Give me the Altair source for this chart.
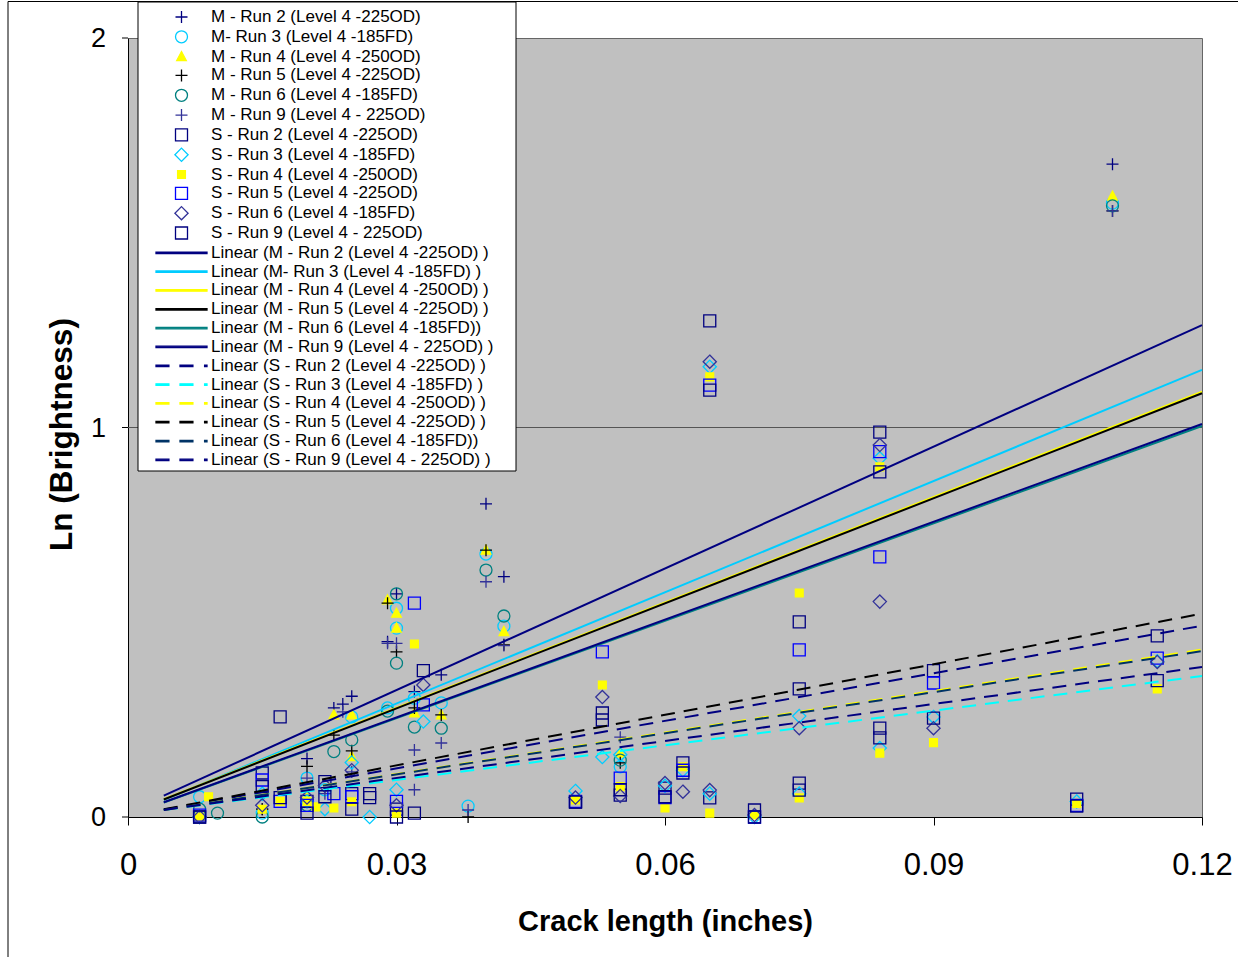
import altair as alt
import pandas as pd

# ---------------- data ----------------
marker_labels = [
    "M - Run 2 (Level 4 -225OD)", "M- Run 3 (Level 4 -185FD)", "M - Run 4 (Level 4 -250OD)",
    "M - Run 5 (Level 4 -225OD)", "M - Run 6 (Level 4 -185FD)", "M - Run 9 (Level 4 - 225OD)",
    "S - Run 2 (Level 4 -225OD)", "S - Run 3 (Level 4 -185FD)", "S - Run 4 (Level 4 -250OD)",
    "S - Run 5 (Level 4 -225OD)", "S - Run 6 (Level 4 -185FD)", "S - Run 9 (Level 4 - 225OD)",
]
trend_labels = [
    "Linear (M - Run 2 (Level 4 -225OD) )", "Linear (M- Run 3 (Level 4 -185FD) )",
    "Linear (M - Run 4 (Level 4 -250OD) )", "Linear (M - Run 5 (Level 4 -225OD) )",
    "Linear (M - Run 6 (Level 4 -185FD))", "Linear (M - Run 9 (Level 4 - 225OD) )",
    "Linear (S - Run 2 (Level 4 -225OD) )", "Linear (S - Run 3 (Level 4 -185FD) )",
    "Linear (S - Run 4 (Level 4 -250OD) )", "Linear (S - Run 5 (Level 4 -225OD) )",
    "Linear (S - Run 6 (Level 4 -185FD))", "Linear (S - Run 9 (Level 4 - 225OD) )",
]

m2_x = [0.008, 0.015, 0.020, 0.023, 0.024, 0.025, 0.029, 0.030, 0.032, 0.035, 0.040, 0.042, 0.110]
m2_y = [0.000, 0.020, 0.150, 0.280, 0.290, 0.310, 0.450, 0.573, 0.322, 0.365, 0.804, 0.617, 1.676]
m3_x = [0.008, 0.015, 0.020, 0.022, 0.025, 0.029, 0.030, 0.030, 0.032, 0.035, 0.038, 0.040, 0.042, 0.055, 0.110]
m3_y = [0.052, 0.010, 0.100, 0.070, 0.257, 0.280, 0.536, 0.485, 0.305, 0.293, 0.028, 0.675, 0.490, 0.129, 1.576]
m4_x = [0.008, 0.020, 0.023, 0.025, 0.025, 0.029, 0.030, 0.030, 0.032, 0.035, 0.040, 0.042, 0.055, 0.110]
m4_y = [0.000, 0.050, 0.262, 0.262, 0.155, 0.557, 0.523, 0.485, 0.267, 0.262, 0.685, 0.476, 0.164, 1.594]
m5_x = [0.008, 0.015, 0.020, 0.023, 0.025, 0.029, 0.030, 0.032, 0.035, 0.038, 0.040, 0.042, 0.055, 0.110]
m5_y = [0.000, 0.020, 0.130, 0.210, 0.170, 0.549, 0.424, 0.280, 0.262, 0.000, 0.685, 0.442, 0.139, 1.556]
m6_x = [0.008, 0.010, 0.015, 0.020, 0.023, 0.025, 0.029, 0.030, 0.030, 0.032, 0.035, 0.040, 0.042, 0.055, 0.110]
m6_y = [0.020, 0.010, 0.000, 0.030, 0.168, 0.198, 0.272, 0.573, 0.395, 0.231, 0.228, 0.634, 0.516, 0.146, 1.569]
m9_x = [0.008, 0.020, 0.022, 0.024, 0.025, 0.029, 0.030, 0.032, 0.032, 0.035, 0.038, 0.040, 0.042, 0.055, 0.110]
m9_y = [0.000, 0.100, 0.060, 0.270, 0.116, 0.446, 0.446, 0.172, 0.070, 0.190, 0.018, 0.604, 0.440, 0.205, 1.556]

s2_x = [0.008, 0.015, 0.017, 0.020, 0.022, 0.025, 0.027, 0.030, 0.033, 0.050, 0.053, 0.055, 0.060, 0.062,
        0.065, 0.065, 0.070, 0.075, 0.075, 0.084, 0.084, 0.090, 0.106, 0.115]
s2_y = [0.000, 0.113, 0.257, 0.040, 0.091, 0.060, 0.050, 0.020, 0.376, 0.038, 0.267, 0.056, 0.074, 0.139,
        1.274, 0.049, 0.018, 0.501, 0.087, 0.988, 0.228, 0.376, 0.046, 0.465]
s3_x = [0.008, 0.015, 0.020, 0.022, 0.025, 0.027, 0.030, 0.033, 0.050, 0.053, 0.055, 0.060, 0.062, 0.065,
        0.065, 0.070, 0.075, 0.075, 0.084, 0.084, 0.090, 0.106, 0.115]
s3_y = [0.000, 0.060, 0.040, 0.020, 0.140, 0.000, 0.070, 0.245, 0.067, 0.154, 0.160, 0.080, 0.120, 1.156,
        0.060, 0.000, 0.259, 0.060, 0.921, 0.177, 0.257, 0.040, 0.400]
s4_x = [0.008, 0.009, 0.015, 0.017, 0.020, 0.021, 0.023, 0.025, 0.030, 0.032, 0.050, 0.053, 0.055, 0.060,
        0.062, 0.065, 0.065, 0.070, 0.075, 0.075, 0.084, 0.084, 0.090, 0.106, 0.115]
s4_y = [0.000, 0.052, 0.020, 0.040, 0.040, 0.026, 0.023, 0.039, 0.010, 0.444, 0.044, 0.339, 0.078, 0.023,
        0.129, 1.130, 0.010, 0.005, 0.575, 0.049, 0.899, 0.164, 0.191, 0.035, 0.329]
s5_x = [0.008, 0.015, 0.017, 0.020, 0.023, 0.025, 0.030, 0.032, 0.033, 0.050, 0.053, 0.055, 0.060, 0.062,
        0.065, 0.070, 0.075, 0.084, 0.084, 0.090, 0.106, 0.115]
s5_y = [0.005, 0.095, 0.040, 0.030, 0.060, 0.052, 0.040, 0.549, 0.288, 0.040, 0.424, 0.100, 0.050, 0.120,
        1.109, 0.000, 0.429, 0.938, 0.668, 0.344, 0.030, 0.408]
s6_x = [0.008, 0.015, 0.020, 0.022, 0.025, 0.030, 0.033, 0.050, 0.053, 0.055, 0.060, 0.062, 0.065, 0.065,
        0.070, 0.075, 0.084, 0.084, 0.090, 0.115]
s6_y = [0.000, 0.030, 0.050, 0.080, 0.120, 0.030, 0.339, 0.050, 0.308, 0.054, 0.087, 0.065, 1.169, 0.069,
        0.005, 0.228, 0.955, 0.553, 0.228, 0.398]
s9_x = [0.008, 0.015, 0.017, 0.020, 0.022, 0.025, 0.027, 0.030, 0.032, 0.050, 0.053, 0.055, 0.060, 0.062,
        0.065, 0.070, 0.075, 0.075, 0.084, 0.084, 0.090, 0.106, 0.115]
s9_y = [0.000, 0.078, 0.050, 0.010, 0.052, 0.020, 0.060, 0.000, 0.010, 0.038, 0.249, 0.070, 0.052, 0.113,
        1.096, 0.000, 0.329, 0.069, 0.886, 0.203, 0.254, 0.028, 0.350]

series_x = [m2_x, m3_x, m4_x, m5_x, m6_x, m9_x, s2_x, s3_x, s4_x, s5_x, s6_x, s9_x]
series_y = [m2_y, m3_y, m4_y, m5_y, m6_y, m9_y, s2_y, s3_y, s4_y, s5_y, s6_y, s9_y]

# trendline end points
trend_x = [0.004, 0.12]
m_trend_start = [0.055, 0.044, 0.046, 0.045, 0.037, 0.038]
m_trend_end = [1.263, 1.148, 1.092, 1.088, 1.004, 1.009]
s_trend_start = [0.019, 0.018, 0.018, 0.020, 0.018, 0.018]
s_trend_end = [0.491, 0.362, 0.430, 0.522, 0.426, 0.385]

y_ticks = [0, 1, 2]
y_tick_labels = ["0", "1", "2"]
x_ticks = [0, 0.03, 0.06, 0.09, 0.12]
grid_values = [1]

# ---------------- styles ----------------
PLUS = "M-1,0H1M0,-1V1"
TRI = "M0,-0.85L0.8,0.65H-0.8Z"
DIAM = "M0,-1.1L1.1,0L0,1.1L-1.1,0Z"
SMALLSQ = "M-0.65,-0.65H0.65V0.65H-0.65Z"
SOLID = "M-4.25,-0.12H4.25V0.12H-4.25Z"
DASHED = "M-4.25,-0.12H-2.1V0.12H-4.25Z M-0.25,-0.12H1.9V0.12H-0.25Z M3.85,-0.12H4.25V0.12H3.85Z"

marker_shapes = [PLUS, "circle", TRI, PLUS, "circle", PLUS,
                 "square", DIAM, SMALLSQ, "square", DIAM, "square"]
marker_strokes = ["#000080", "#00CCFF", "#FFFF00", "#000000", "#008080", "#333399",
                  "#000080", "#00CCFF", "#FFFF00", "#0000FF", "#333399", "#000080"]
marker_fills = ["transparent", "transparent", "#FFFF00", "transparent", "transparent", "transparent",
                "transparent", "transparent", "#FFFF00", "transparent", "transparent", "transparent"]
trend_colors = ["#000080", "#00CCFF", "#FFFF00", "#000000", "#008080", "#000080",
                "#000080", "#00FFFF", "#FFFF00", "#000000", "#003366", "#000080"]
trend_shapes = [SOLID] * 6 + [DASHED] * 6

all_labels = marker_labels + trend_labels
FONT = "Liberation Sans"

# ---------------- tables ----------------
rows = []
for lab, xs, ys in zip(marker_labels, series_x, series_y):
    for xv, yv in zip(xs, ys):
        rows.append({"label": lab, "x": xv, "y": yv})
points_df = pd.DataFrame(rows)

m_rows, s_rows = [], []
for i in range(6):
    m_rows += [{"label": trend_labels[i], "x": trend_x[0], "y": m_trend_start[i]},
               {"label": trend_labels[i], "x": trend_x[1], "y": m_trend_end[i]}]
    s_rows += [{"label": trend_labels[6 + i], "x": trend_x[0], "y": s_trend_start[i]},
               {"label": trend_labels[6 + i], "x": trend_x[1], "y": s_trend_end[i]}]
m_df = pd.DataFrame(m_rows)
s_df = pd.DataFrame(s_rows)
grid_df = pd.DataFrame({"y": grid_values})
ytick_df = pd.DataFrame({"y": y_ticks, "text": y_tick_labels})

# ---------------- encodings ----------------
legend = alt.Legend(
    title=None, orient="none", legendX=45, legendY=-29.5, padding=0,
    symbolSize=144, symbolStrokeWidth=1.3, symbolOpacity=1,
    labelFont=FONT, labelFontSize=17, labelColor="black", labelOffset=21,
    labelLimit=500, rowPadding=0.82, symbolLimit=50, direction="vertical",
)
shape_scale = alt.Scale(domain=all_labels, range=marker_shapes + trend_shapes)
stroke_scale = alt.Scale(domain=all_labels, range=marker_strokes + trend_colors)
fill_scale = alt.Scale(domain=all_labels, range=marker_fills + trend_colors)

x_scale = alt.Scale(domain=[0, 0.12], nice=False, zero=False)
y_scale = alt.Scale(domain=[0, 2], nice=False)

x_enc = alt.X(
    "x:Q", scale=x_scale,
    axis=alt.Axis(
        values=x_ticks, format=".2~f", grid=False, labelOverlap=False,
        title="Crack length (inches)", titleFont=FONT, titleFontSize=29, titleFontWeight="bold",
        titleColor="black", titleX=537, titleY=104.6, titleBaseline="middle", titleAlign="center",
        labelFont=FONT, labelFontSize=31, labelColor="black", labelPadding=25,
        tickSize=8, tickColor="black", domainColor="black", labelFlush=False,
    ),
)
y_enc = alt.Y(
    "y:Q", scale=y_scale,
    axis=alt.Axis(
        values=y_ticks, grid=False, labels=False, ticks=False,
        title="Ln (Brightness)", titleFont=FONT, titleFontSize=31.5, titleFontWeight="bold",
        titleColor="black", titleX=-65.5, titleY=396, titleBaseline="middle", titleAlign="center",
        domainColor="black",
    ),
)

deco = alt.Data(values=[{"a": 1}])

frame = alt.Chart(deco).mark_rect(fill="transparent", stroke="black", strokeWidth=1).encode(
    x=alt.value(-120), x2=alt.value(1130), y=alt.value(-36.5), y2=alt.value(940)
)

gridline = alt.Chart(grid_df).mark_rule(color="#555555", strokeWidth=1).encode(
    y=alt.Y("y:Q", scale=y_scale)
)

y_tick_marks = alt.Chart(ytick_df).mark_rule(color="black", strokeWidth=1).encode(
    y=alt.Y("y:Q", scale=y_scale), x=alt.value(-6), x2=alt.value(0)
)
y_tick_text = alt.Chart(ytick_df).mark_text(
    align="right", baseline="middle", font=FONT, fontSize=27, color="black", dy=1
).encode(y=alt.Y("y:Q", scale=y_scale), x=alt.value(-22), text="text:N")

points = alt.Chart(points_df).mark_point(size=144, strokeWidth=1.3, opacity=1).encode(
    x=x_enc, y=y_enc,
    shape=alt.Shape("label:N", scale=shape_scale, legend=legend),
    stroke=alt.Stroke("label:N", scale=stroke_scale, legend=legend),
    fill=alt.Fill("label:N", scale=fill_scale, legend=legend),
)

solid_lines = alt.Chart(m_df).mark_line(strokeWidth=2).encode(
    x=x_enc, y=y_enc,
    stroke=alt.Stroke("label:N", scale=stroke_scale, legend=legend),
)
dashed_lines = alt.Chart(s_df).mark_line(strokeWidth=2, strokeDash=[14, 9]).encode(
    x=x_enc, y=y_enc,
    stroke=alt.Stroke("label:N", scale=stroke_scale, legend=legend),
)

legend_box = alt.Chart(deco).mark_rect(fill="white", stroke="black", strokeWidth=1).encode(
    x=alt.value(10), x2=alt.value(388), y=alt.value(-36), y2=alt.value(433)
)

chart = alt.layer(
    frame, gridline, points, solid_lines, dashed_lines, legend_box, y_tick_marks, y_tick_text
).properties(
    width=1074, height=779,
    autosize=alt.AutoSizeParams(type="none"),
    padding={"left": 128, "top": 38, "right": 36, "bottom": 140},
    background="white",
).configure_view(fill="#C0C0C0", stroke="#666666", strokeWidth=1)

chart.save("out.html", embed_options={"renderer": "svg", "actions": False})
